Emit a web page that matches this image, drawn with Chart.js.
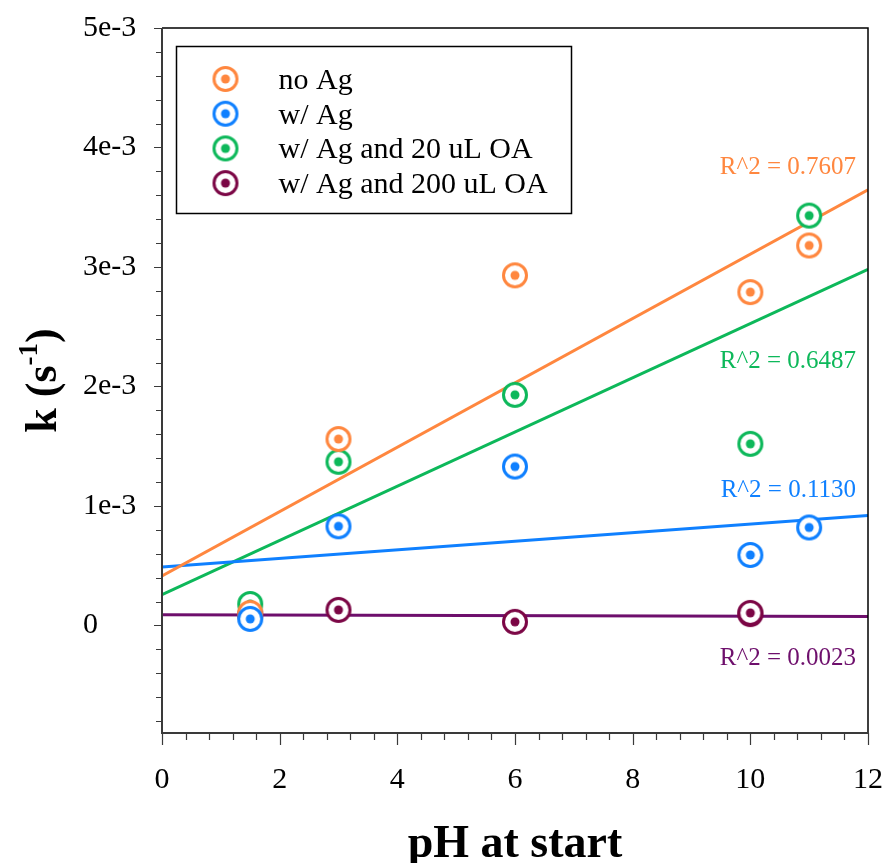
<!DOCTYPE html>
<html>
<head>
<meta charset="utf-8">
<script src="https://cdn.jsdelivr.net/npm/chart.js@4.4.1/dist/chart.umd.min.js"></script>
<style>
  html, body { margin: 0; padding: 0; background: #fff; }
  #wrap { width: 885px; height: 863px; }
</style>
</head>
<body>
<div id="wrap"><canvas id="chart" width="885" height="863"></canvas></div>
<script>
// ── data ──────────────────────────────────────────────────────
const seriesNames = ['no Ag', 'w/ Ag', 'w/ Ag and 20 uL OA', 'w/ Ag and 200 uL OA'];

const phStart  = [1.5, 3, 6, 10, 11];
const kNoAg    = [0.105e-3, 1.56e-3, 2.93e-3, 2.79e-3, 3.18e-3];
const kAg      = [0.055e-3, 0.83e-3, 1.33e-3, 0.59e-3, 0.82e-3];
const kAg20    = [0.18e-3, 1.37e-3, 1.93e-3, 1.52e-3, 3.43e-3];
const phAg200  = [1.5, 3, 6, 10, 10];
const kAg200   = [0.09e-3, 0.13e-3, 0.03e-3, 0.095e-3, 0.105e-3];

// linear fits (end points at pH 0 and 12)
const fitX      = [0, 12];
const fitNoAg   = [0.415e-3, 3.645e-3];
const fitAg     = [0.49e-3, 0.92e-3];
const fitAg20   = [0.257e-3, 2.98e-3];
const fitAg200  = [0.09e-3, 0.075e-3];

const r2Text = ['R^2 = 0.7607', 'R^2 = 0.1130', 'R^2 = 0.6487', 'R^2 = 0.0023'];

const xTickVals   = [0, 2, 4, 6, 8, 10, 12];
const yTickVals   = [0, 1e-3, 2e-3, 3e-3, 4e-3, 5e-3];
const yTickLabels = ['0', '1e-3', '2e-3', '3e-3', '4e-3', '5e-3'];

// ── styles ────────────────────────────────────────────────────
const COL = {
  noAg:  '#FF873F',
  ag:    '#0F80FF',
  ag20:  '#0DB85A',
  ag200: '#7B0645',
  ag200Line: '#6E0F6C',
};
const SERIF = '"Liberation Serif", "DejaVu Serif", serif';

function ringMarker(color) {
  const c = document.createElement('canvas');
  c.width = 30; c.height = 30;
  const g = c.getContext('2d');
  g.beginPath(); g.arc(15, 15, 11.5, 0, Math.PI * 2);
  g.fillStyle = '#fff'; g.fill();
  g.lineWidth = 3; g.strokeStyle = color; g.stroke();
  g.beginPath(); g.arc(15, 15, 4.5, 0, Math.PI * 2);
  g.fillStyle = color; g.fill();
  return c;
}

const markers = [ringMarker(COL.noAg), ringMarker(COL.ag), ringMarker(COL.ag20), ringMarker(COL.ag200)];

const pts = (xs, ys) => xs.map((x, i) => ({ x, y: ys[i] }));

function pointSet(label, data, marker, order) {
  return { type: 'scatter', label, data, pointStyle: marker, pointRadius: 13,
           showLine: false, order };
}
function fitSet(data, color) {
  return { type: 'line', data, borderColor: color, borderWidth: 3, pointRadius: 0,
           fill: false, tension: 0, order: 10 };
}

// ── decorations: frame, tick marks, titles, R², legend ───────
const decor = {
  id: 'decor',
  afterDatasetsDraw(chart) {
    const { ctx, chartArea: a, scales: { x, y } } = chart;
    ctx.save();

    // frame
    ctx.lineWidth = 1.5;
    ctx.strokeStyle = '#000';
    ctx.beginPath();
    ctx.moveTo(a.left, a.top); ctx.lineTo(a.right, a.top); ctx.lineTo(a.right, a.bottom);
    ctx.stroke();
    ctx.strokeStyle = '#3a3a3a';
    ctx.lineWidth = 2;
    ctx.beginPath();
    ctx.moveTo(a.left, a.top); ctx.lineTo(a.left, a.bottom); ctx.lineTo(a.right, a.bottom);
    ctx.stroke();

    // tick marks (major + minor)
    ctx.lineWidth = 1.2;
    ctx.beginPath();
    for (let i = -4; i <= 25; i++) {
      const py = Math.round(y.getPixelForValue(i * 0.2e-3)) + 0.5;
      if (py > a.bottom + 1) continue;
      const len = i % 5 === 0 ? 8 : 6;
      ctx.moveTo(a.left, py); ctx.lineTo(a.left - len, py);
    }
    for (let i = 0; i <= 30; i++) {
      const px = Math.round(x.getPixelForValue(i * 0.4)) + 0.5;
      const len = i % 5 === 0 ? 12 : 7;
      ctx.moveTo(px, a.bottom); ctx.lineTo(px, a.bottom + len);
    }
    ctx.stroke();

    // R² labels
    ctx.font = '25px ' + SERIF;
    ctx.textAlign = 'right';
    ctx.textBaseline = 'middle';
    const r2Cols = [COL.noAg, COL.ag, COL.ag20, COL.ag200Line];
    const r2At = [3.83e-3, 1.13e-3, 2.21e-3, -0.28e-3];
    r2Text.forEach((t, i) => {
      ctx.fillStyle = r2Cols[i];
      ctx.fillText(t, a.right - 12, y.getPixelForValue(r2At[i]));
    });

    // legend
    const lx = a.left + 14.5, ly = a.top + 18.5, lw = 395, lh = 167;
    ctx.fillStyle = '#fff';
    ctx.fillRect(lx, ly, lw, lh);
    ctx.strokeStyle = '#000';
    ctx.lineWidth = 1.5;
    ctx.strokeRect(lx, ly, lw, lh);
    ctx.font = '30px ' + SERIF;
    ctx.textAlign = 'left';
    ctx.textBaseline = 'middle';
    ctx.fillStyle = '#000';
    seriesNames.forEach((name, i) => {
      const cy = ly + 32.5 + i * 34.7;
      ctx.drawImage(markers[i], lx + 49 - 15, cy - 15);
      ctx.fillText(name, lx + 102, cy + 2);
    });

    // axis titles
    ctx.fillStyle = '#000';
    ctx.font = 'bold 46px ' + SERIF;
    ctx.textAlign = 'center';
    ctx.textBaseline = 'alphabetic';
    ctx.fillText('pH at start', (a.left + a.right) / 2, 857);

    ctx.translate(56, (a.top + a.bottom) / 2);
    ctx.rotate(-Math.PI / 2);
    const big = 'bold 44px ' + SERIF, small = 'bold 27px ' + SERIF;
    ctx.font = big;  const w1 = ctx.measureText('k (s').width;
    ctx.font = small; const w2 = ctx.measureText('-1').width;
    ctx.font = big;  const w3 = ctx.measureText(')').width;
    let sx = -(w1 + w2 + w3) / 2;
    ctx.textAlign = 'left';
    ctx.fillText('k (s', sx, 0); sx += w1;
    ctx.font = small; ctx.fillText('-1', sx, -19); sx += w2;
    ctx.font = big;  ctx.fillText(')', sx, 0);

    ctx.restore();
  }
};

new Chart(document.getElementById('chart'), {
  type: 'scatter',
  data: {
    datasets: [
      pointSet(seriesNames[0], pts(phStart, kNoAg), markers[0], 2),
      pointSet(seriesNames[1], pts(phStart, kAg), markers[1], 1),
      pointSet(seriesNames[2], pts(phStart, kAg20), markers[2], 3),
      pointSet(seriesNames[3], pts(phAg200, kAg200), markers[3], 5),
      fitSet(pts(fitX, fitNoAg), COL.noAg),
      fitSet(pts(fitX, fitAg), COL.ag),
      fitSet(pts(fitX, fitAg20), COL.ag20),
      fitSet(pts(fitX, fitAg200), COL.ag200Line),
    ],
  },
  options: {
    responsive: false,
    devicePixelRatio: 1,
    animation: false,
    layout: { padding: { left: 83, top: 28, right: 17, bottom: 0 } },
    plugins: { legend: { display: false }, tooltip: { enabled: false } },
    scales: {
      x: {
        type: 'linear', min: 0, max: 12,
        grid: { display: false, drawTicks: false },
        border: { display: false },
        afterFit: s => { s.height = 130; s.paddingLeft = 0; s.paddingRight = 0; },
        afterBuildTicks: s => { s.ticks = xTickVals.map(v => ({ value: v })); },
        ticks: {
          padding: 29,
          color: '#000',
          font: { family: SERIF, size: 30 },
          callback: v => String(v),
        },
      },
      y: {
        type: 'linear', min: -0.9e-3, max: 5e-3,
        grid: { display: false, drawTicks: false },
        border: { display: false },
        afterFit: s => { s.width = 79; s.paddingTop = 0; s.paddingBottom = 0; },
        afterBuildTicks: s => { s.ticks = yTickVals.map(v => ({ value: v })); },
        ticks: {
          crossAlign: 'far',
          color: '#000',
          font: { family: SERIF, size: 30 },
          callback: (v, i) => yTickLabels[i],
        },
      },
    },
  },
  plugins: [decor],
});
</script>
</body>
</html>
